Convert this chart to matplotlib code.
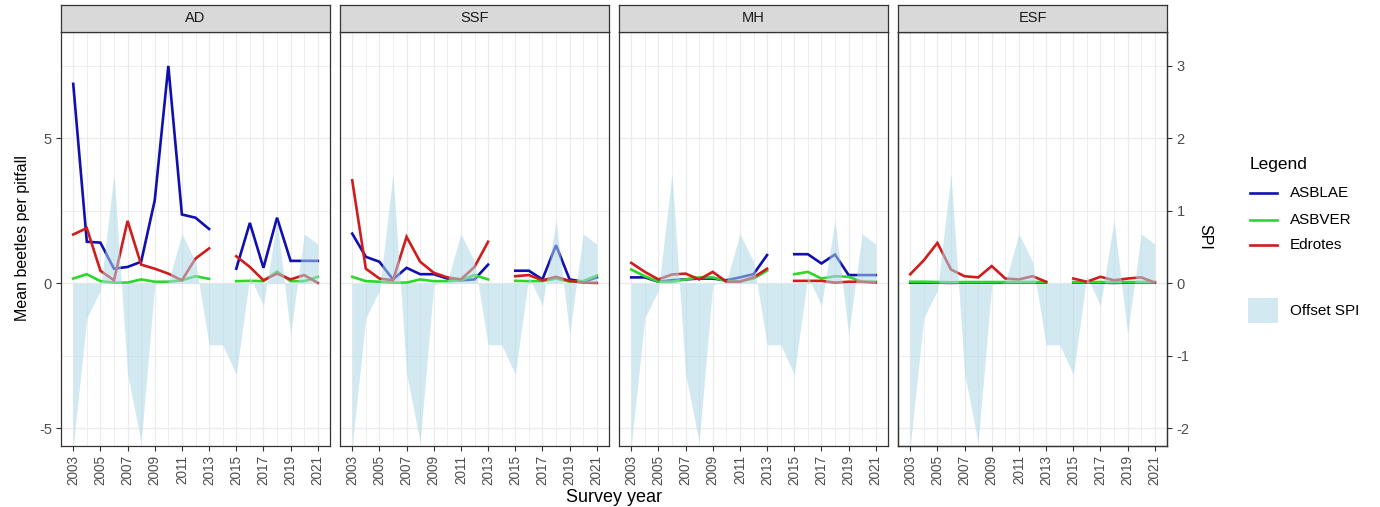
import numpy as np
import matplotlib.pyplot as plt
from matplotlib.lines import Line2D
from matplotlib.patches import Rectangle

plt.rcParams['font.family'] = ['Liberation Sans', 'DejaVu Sans']
plt.rcParams['axes.unicode_minus'] = False

nan = np.nan
years = list(range(2003, 2022))
sites = ['AD', 'SSF', 'MH', 'ESF']

# mean beetles per pitfall, 2014 not surveyed
asblae_ad = [6.88, 1.43, 1.40, 0.50, 0.56, 0.74, 2.86, 7.50, 2.37, 2.26, 1.87, nan, 0.50, 2.08, 0.53, 2.26, 0.77, 0.77, 0.77]
asblae_ssf = [1.71, 0.91, 0.74, 0.13, 0.53, 0.31, 0.31, 0.16, 0.10, 0.13, 0.64, nan, 0.43, 0.43, 0.13, 1.31, 0.13, 0.05, 0.20]
asblae_mh = [0.20, 0.20, 0.05, 0.10, 0.13, 0.16, 0.16, 0.10, 0.20, 0.31, 0.97, nan, 1.00, 1.00, 0.68, 0.99, 0.28, 0.28, 0.28]
asblae_esf = [0.02, 0.02, 0.02, 0.01, 0.02, 0.02, 0.02, 0.02, 0.02, 0.02, 0.02, nan, 0.02, 0.02, 0.02, 0.01, 0.02, 0.02, 0.02]

asbver_ad = [0.16, 0.31, 0.07, 0.02, 0.02, 0.13, 0.05, 0.05, 0.10, 0.24, 0.15, nan, 0.07, 0.08, 0.07, 0.40, 0.07, 0.07, 0.22]
asbver_ssf = [0.22, 0.07, 0.05, 0.02, 0.02, 0.13, 0.07, 0.07, 0.10, 0.28, 0.13, nan, 0.08, 0.07, 0.07, 0.16, 0.05, 0.07, 0.26]
asbver_mh = [0.47, 0.24, 0.05, 0.05, 0.13, 0.20, 0.20, 0.07, 0.07, 0.16, 0.43, nan, 0.31, 0.39, 0.16, 0.24, 0.22, 0.05, 0.05]
asbver_esf = [0.05, 0.05, 0.04, 0.03, 0.04, 0.04, 0.04, 0.04, 0.04, 0.04, 0.04, nan, 0.04, 0.04, 0.04, 0.04, 0.04, 0.04, 0.04]

edrotes_ad = [1.68, 1.90, 0.43, 0.10, 2.15, 0.64, 0.50, 0.33, 0.10, 0.85, 1.20, nan, 0.93, 0.56, 0.10, 0.33, 0.13, 0.28, 0.01]
edrotes_ssf = [3.55, 0.50, 0.16, 0.10, 1.60, 0.74, 0.36, 0.20, 0.13, 0.56, 1.43, nan, 0.24, 0.28, 0.10, 0.22, 0.08, 0.02, 0.01]
edrotes_mh = [0.70, 0.39, 0.13, 0.30, 0.33, 0.13, 0.39, 0.05, 0.05, 0.20, 0.50, nan, 0.08, 0.08, 0.08, 0.02, 0.05, 0.05, 0.02]
edrotes_esf = [0.31, 0.79, 1.39, 0.47, 0.24, 0.20, 0.59, 0.16, 0.13, 0.24, 0.05, nan, 0.16, 0.05, 0.22, 0.10, 0.16, 0.20, 0.02]

# standardised precipitation index, same for every site
spi = [-2.25, -0.48, -0.10, 1.51, -1.25, -2.20, -0.02, 0.02, 0.68, 0.30, -0.85, -0.85, -1.26, 0.10, -0.31, 0.87, -0.70, 0.68, 0.54]
spi_scale = 2.5

especies = {
    'ASBLAE': dict(zip(sites, [asblae_ad, asblae_ssf, asblae_mh, asblae_esf])),
    'ASBVER': dict(zip(sites, [asbver_ad, asbver_ssf, asbver_mh, asbver_esf])),
    'Edrotes': dict(zip(sites, [edrotes_ad, edrotes_ssf, edrotes_mh, edrotes_esf])),
}
cores = {'ASBLAE': '#1010B0', 'ASBVER': '#2BD92B', 'Edrotes': '#D01C1C'}
cor_spi = 'lightblue'

W, H = 1380, 507
def caixa(x0, y0, x1, y1):
    return [x0 / W, 1 - y1 / H, (x1 - x0) / W, (y1 - y0) / H]

fig = plt.figure(figsize=(W / 100, H / 100), dpi=100)

ylim = (-5.62, 8.67)
xlim = (2003 - 0.9, 2021 + 0.9)
borda = '#333333'
texto = '#4D4D4D'

for i, site in enumerate(sites):
    x0 = 61 + i * 279
    ax = fig.add_axes(caixa(x0, 32, x0 + 269, 446))
    ax.set_xlim(*xlim)
    ax.set_ylim(*ylim)

    for nome, dados in especies.items():
        ax.plot(years, dados[site], color=cores[nome], lw=1.9, zorder=2,
                solid_joinstyle='miter')
    ax.fill_between(years, 0, np.array(spi) * spi_scale, color=cor_spi,
                    alpha=0.55, lw=0, zorder=3)

    ax.set_xticks(years[::2])
    ax.set_xticks(years[1::2], minor=True)
    ax.set_yticks([-5, 0, 5])
    ax.set_yticks([-2.5, 2.5, 7.5], minor=True)
    ax.grid(True, which='major', color='#EBEBEB', lw=0.9, zorder=0)
    ax.grid(True, which='minor', color='#EBEBEB', lw=0.6, zorder=0)
    ax.set_axisbelow(True)
    ax.set_xticklabels([str(a) for a in years[::2]], rotation=90)
    ax.tick_params(which='major', length=3.5, color=borda, width=0.8,
                   labelsize=9.8, labelcolor=texto, pad=3)
    ax.tick_params(which='minor', length=0)
    if i > 0:
        ax.tick_params(axis='y', which='major', length=0, labelleft=False)
    else:
        ax.tick_params(axis='y', labelsize=10.5)
    for s in ax.spines.values():
        s.set_color(borda)
        s.set_linewidth(0.9)

    if site == 'ESF':
        ax2 = ax.twinx()
        ax2.set_ylim(ylim[0] / spi_scale, ylim[1] / spi_scale)
        ax2.set_yticks([-2, -1, 0, 1, 2, 3])
        ax2.tick_params(length=3.5, color=borda, width=0.8, labelsize=10.5,
                        labelcolor=texto)
        for s in ax2.spines.values():
            s.set_color(borda)
            s.set_linewidth(0.9)

    faixa = fig.add_axes(caixa(x0, 5, x0 + 269, 32))
    faixa.set_facecolor('#D9D9D9')
    faixa.set_xticks([])
    faixa.set_yticks([])
    for s in faixa.spines.values():
        s.set_color(borda)
        s.set_linewidth(0.9)
    faixa.text(0.5, 0.5, site, ha='center', va='center', fontsize=10.5,
               color='#1A1A1A', transform=faixa.transAxes)

fig.text(23 / W, 1 - 238 / H, 'Mean beetles per pitfall', rotation=90,
         ha='center', va='center', fontsize=11.5, color='black')
fig.text(614 / W, 1 - 497 / H, 'Survey year', ha='center', va='center',
         fontsize=13, color='black')
fig.text(1205 / W, 1 - 237 / H, 'SPI', rotation=270, ha='center',
         va='center', fontsize=11.5, color='black')

# legenda manual
fig.text(1250 / W, 1 - 165 / H, 'Legend', ha='left', va='center',
         fontsize=12.5, color='black')
for nome, yp in zip(especies.keys(), [193, 220, 245]):
    fig.add_artist(Line2D([1250 / W, 1277 / W], [1 - yp / H, 1 - yp / H],
                          color=cores[nome], lw=1.9))
    fig.text(1290 / W, 1 - yp / H, nome, ha='left', va='center',
             fontsize=11, color='black')
fig.add_artist(Rectangle((1248 / W, 1 - 323 / H), 30 / W, 25 / H,
                         facecolor=cor_spi, alpha=0.55, lw=0,
                         transform=fig.transFigure))
fig.text(1290 / W, 1 - 311 / H, 'Offset SPI', ha='left', va='center',
         fontsize=11, color='black')

fig.savefig('out.png', dpi=100)
plt.close(fig)
